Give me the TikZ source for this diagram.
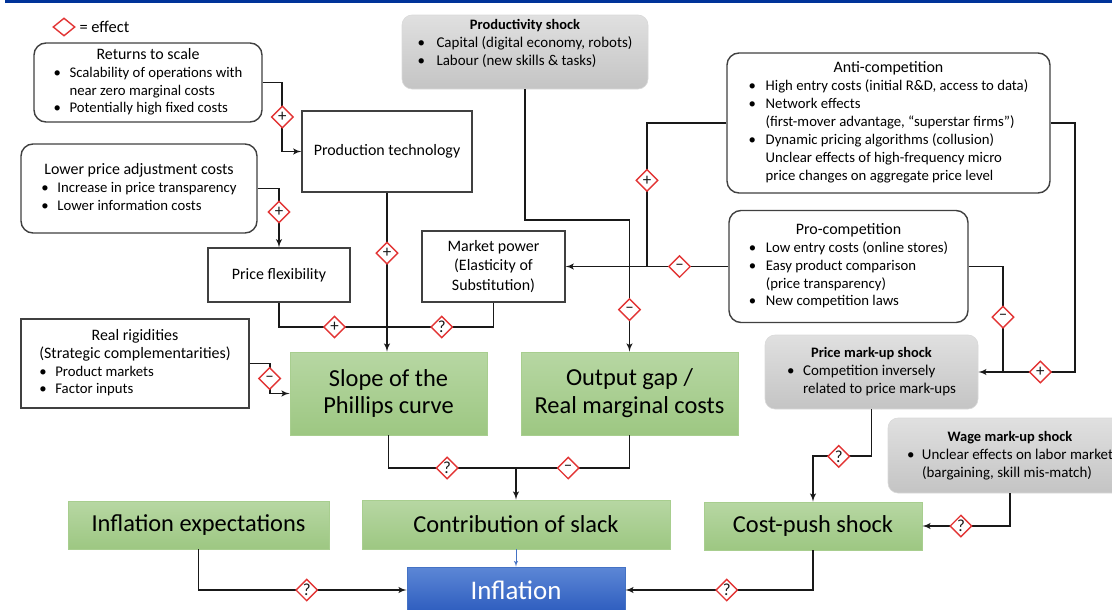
\documentclass[tikz,border=0pt]{standalone}
\usepackage{fontspec}
\setmainfont{Carlito}
\usepackage{tikz}
\usetikzlibrary{arrows,shapes,calc}

\definecolor{effred}{RGB}{226,52,52}
\definecolor{topblue}{RGB}{0,51,153}
\definecolor{greentop}{RGB}{183,215,163}
\definecolor{greenbot}{RGB}{157,199,130}
\definecolor{greenedge}{RGB}{168,206,143}
\definecolor{graytop}{RGB}{224,224,224}
\definecolor{graybot}{RGB}{196,196,196}
\definecolor{infltop}{RGB}{92,135,214}
\definecolor{inflbot}{RGB}{45,92,190}
\definecolor{arrowblue}{RGB}{68,114,196}

\begin{document}
\begin{tikzpicture}[>=latex', line join=miter]
 \tikzstyle{plain box}=[draw=black!75, line width=1.4bp, fill=white, inner sep=0pt, align=center, font=\fontsize{16}{19.5}\selectfont]
 \tikzstyle{list box}=[plain box, font=\fontsize{14.8}{18}\selectfont]
 \tikzstyle{round box}=[list box, rounded corners=12bp]
 \tikzstyle{shock box}=[draw=black!15, line width=0.6bp, rounded corners=10bp, top color=graytop, bottom color=graybot, inner sep=0pt, font=\fontsize{15}{18}\selectfont]
 \tikzstyle{green box}=[draw=greenedge, line width=0.8bp, top color=greentop, bottom color=greenbot, inner sep=0pt, align=center, font=\fontsize{24.5}{28}\selectfont]
 \tikzstyle{effect}=[diamond, draw=effred, line width=1.4bp, fill=white, inner sep=0pt, minimum width=22bp, minimum height=22bp, font=\fontsize{17}{17}\selectfont]
 \tikzstyle{link}=[line width=1.8bp, black!90]

 \useasboundingbox (0,0) rectangle (1112bp,-610bp);
 \draw[line width=3bp, topblue] (5bp,-1.5bp) -- (1112bp,-1.5bp);

 \node (legend) at (64bp,-27bp) [effect, minimum width=22bp, minimum height=18bp] {};
 \node (legendtext) at (76bp,-27bp) [anchor=west, font=\fontsize{16.5}{16.5}\selectfont] {= effect};

 % left column
 \node (rts) at (148bp,-82.5bp) [round box, minimum width=228bp, minimum height=79bp]
  {\begin{tabular}{@{}p{16bp}@{}l@{}}
   \multicolumn{2}{@{}c@{}}{\fontsize{16}{18}\selectfont Returns to scale}\\
   \textbullet & Scalability of operations with\\
   & near zero marginal costs\\
   \textbullet & Potentially high fixed costs
  \end{tabular}};
 \node (lpac) at (139bp,-188.5bp) [round box, minimum width=236bp, minimum height=89bp]
  {\begin{tabular}{@{}p{16bp}@{}l@{}}
   \multicolumn{2}{@{}c@{}}{\fontsize{16}{18}\selectfont Lower price adjustment costs}\\
   \textbullet & Increase in price transparency\\
   \textbullet & Lower information costs
  \end{tabular}};
 \node (rrig) at (135bp,-363.5bp) [list box, minimum width=228bp, minimum height=89bp]
  {\begin{tabular}{@{}p{16bp}@{}l@{}}
   \multicolumn{2}{@{}c@{}}{\fontsize{16}{18}\selectfont Real rigidities}\\
   \multicolumn{2}{@{}c@{}}{\fontsize{16}{19}\selectfont (Strategic complementarities)}\\
   \textbullet & Product markets\\
   \textbullet & Factor inputs
  \end{tabular}};

 \node (ptech) at (387bp,-151.5bp) [plain box, minimum width=170bp, minimum height=81bp] {Production technology};
 \node (pflex) at (279bp,-275bp) [plain box, minimum width=142bp, minimum height=54bp] {Price flexibility};
 \node (mpower) at (493.5bp,-266.5bp) [plain box, minimum width=143bp, minimum height=71bp]
  {Market power\\(Elasticity of\\Substitution)};

 % shocks
 \node (pshock) at (525bp,-52bp) [shock box, minimum width=246bp, minimum height=74bp]
  {\begin{tabular}{@{}p{19bp}@{}l@{}}
   \multicolumn{2}{@{}c@{}}{\fontsize{14.5}{18}\bfseries Productivity shock}\\
   \textbullet & Capital (digital economy, robots)\\
   \textbullet & Labour (new skills \& tasks)\\[16bp]
  \end{tabular}};
 \node (pmark) at (871.5bp,-372bp) [shock box, minimum width=213bp, minimum height=74bp]
  {\begin{tabular}{@{}p{16bp}@{}l@{}}
   \multicolumn{2}{@{}c@{}}{\fontsize{14.5}{18}\bfseries Price mark-up shock}\\
   \textbullet & Competition inversely\\
   & related to price mark-ups
  \end{tabular}};
 \node (wmark) at (1010bp,-455.5bp) [shock box, minimum width=244bp, minimum height=75bp]
  {\begin{tabular}{@{}p{15bp}@{}l@{}}
   \multicolumn{2}{@{}c@{}}{\fontsize{14.5}{18}\bfseries Wage mark-up shock}\\
   \textbullet & Unclear effects on labor market\\
   & (bargaining, skill mis-match)
  \end{tabular}};

 % competition
 \node (anti) at (888.5bp,-123bp) [round box, minimum width=323bp, minimum height=140bp]
  {\begin{tabular}{@{}p{17bp}@{}l@{}}
   \multicolumn{2}{@{}c@{}}{\fontsize{16}{18}\selectfont Anti-competition}\\
   \textbullet & High entry costs (initial R\&D, access to data)\\
   \textbullet & Network effects\\
   & (first-mover advantage, “superstar firms”)\\
   \textbullet & Dynamic pricing algorithms (collusion)\\
   & Unclear effects of high-frequency micro\\
   & price changes on aggregate price level
  \end{tabular}};
 \node (pro) at (848.5bp,-266.5bp) [round box, minimum width=239bp, minimum height=112bp]
  {\begin{tabular}{@{}p{17bp}@{}l@{}}
   \multicolumn{2}{@{}c@{}}{\fontsize{16}{18}\selectfont Pro-competition}\\
   \textbullet & Low entry costs (online stores)\\
   \textbullet & Easy product comparison\\
   & (price transparency)\\
   \textbullet & New competition laws
  \end{tabular}};

 % green boxes
 \node (slope) at (388.5bp,-393.5bp) [green box, minimum width=197bp, minimum height=83bp] {Slope of the\\Phillips curve};
 \node (ogap) at (629.5bp,-393.5bp) [green box, minimum width=217bp, minimum height=83bp] {Output gap /\\Real marginal costs};
 \node (iexp) at (198.5bp,-525bp) [green box, minimum width=261bp, minimum height=48bp] {Inflation expectations};
 \node (slack) at (516bp,-524.5bp) [green box, minimum width=308bp, minimum height=49bp] {Contribution of slack};
 \node (cpush) at (813bp,-526bp) [green box, minimum width=218bp, minimum height=48bp] {Cost-push shock};
 \node (infl) at (516bp,-590bp) [draw=arrowblue, line width=0.8bp, top color=infltop, bottom color=inflbot, text=white, minimum width=218bp, minimum height=46bp, font=\fontsize{27}{30}\selectfont] {Inflation};

 % connectors
 \draw[link,->] (rts.east) -| node[effect,pos=0.75] {+} ($(ptech.west)+(-19bp,0)$) -- (ptech.west);
 \draw[link,->] (lpac.east) -| node[effect,pos=0.7] {+} (pflex.north);
 \draw[link,->] (ptech.south) -- node[effect,pos=0.38] {+} (ptech.south |- slope.north);
 \coordinate (flexjoin) at (387bp,-327bp);
 \draw[link] (pflex.south) |- node[effect,pos=0.757] {+} (flexjoin);
 \draw[link] (mpower.south) |- node[effect,pos=0.743] {?} (flexjoin);
 \draw[link,->] (rrig.east) -| node[effect,pos=0.75] {–} ($(slope.west)+(-20bp,0)$) -- (slope.west);

 \draw[link,->] (pshock.south) -- ++(0,-131bp) -| node[effect,pos=0.84] {–} (ogap.north);

 \coordinate (compjoin) at (647bp,-266.5bp);
 \draw[link] (anti.west) -| node[effect,pos=0.7] {+} (compjoin);
 \draw[link,->] (pro.west) -- node[effect,pos=0.3] {–} (mpower.east);
 \coordinate (markjoin) at (1003bp,-372bp);
 \draw[link] (pro.east) -| node[effect,pos=0.74] {–} (markjoin);
 \draw[link,->] (anti.east) -| ($(pmark.east)+(97bp,0)$) -- node[effect,pos=0.36] {+} (pmark.east);

 \coordinate (slackjoin) at (516bp,-468bp);
 \draw[link] (slope.south) |- node[effect,pos=0.73] {?} (slackjoin);
 \draw[link] (ogap.south) |- node[effect,pos=0.77] {–} (slackjoin);
 \draw[link,->] (slackjoin) -- (slack.north);
 \draw[line width=1bp, arrowblue, ->] (slack.south) -- (infl.north);

 \draw[link,->] (pmark.south) -- ++(0,-47bp) -| node[effect,pos=0.28] {?} (cpush.north);
 \draw[link,->] (wmark.south) |- node[effect,pos=0.78] {?} (cpush.east);
 \draw[link,->] (iexp.south) |- node[effect,pos=0.76] {?} (infl.west);
 \draw[link,->] (cpush.south) |- node[effect,pos=0.73] {?} (infl.east);
\end{tikzpicture}
\end{document}
